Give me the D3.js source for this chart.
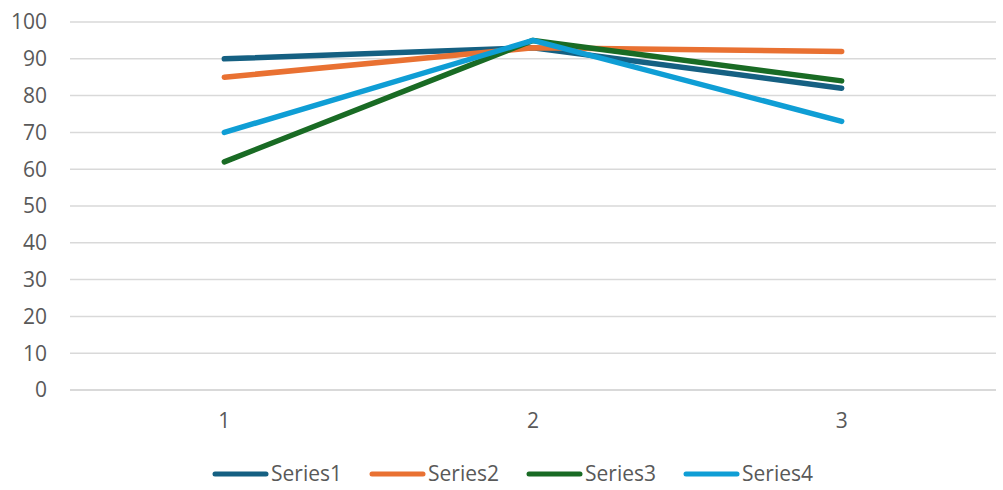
<!DOCTYPE html>
<html>
<head>
<meta charset="utf-8">
<script src="https://cdn.jsdelivr.net/npm/d3@7"></script>
<style>
  html, body { margin: 0; padding: 0; background: #fff; }
  svg { display: block; }
  text { font-family: "Open Sans", "Noto Sans", sans-serif; fill: #595959; }
</style>
</head>
<body>
<svg id="chart" width="1003" height="490"></svg>
<script>
const categories = [1, 2, 3];
const seriesNames = ["Series1", "Series2", "Series3", "Series4"];
const series1 = [90, 93, 82];
const series2 = [85, 93, 92];
const series3 = [62, 95, 84];
const series4 = [70, 95, 73];
const yTicks = [0, 10, 20, 30, 40, 50, 60, 70, 80, 90, 100];
const colors = ["#156082", "#E97132", "#196B24", "#0F9ED5"];

const allSeries = [series1, series2, series3, series4];

const svg = d3.select("#chart");
const plotLeft = 70, plotRight = 996, plotTop = 22, plotBottom = 390;

const x = d3.scaleBand().domain(categories).range([plotLeft, plotRight]);
const y = d3.scaleLinear().domain([0, 100]).range([plotBottom, plotTop]);

// horizontal gridlines
svg.append("g").selectAll("line").data(yTicks).join("line")
  .attr("x1", plotLeft).attr("x2", plotRight)
  .attr("y1", d => y(d)).attr("y2", d => y(d))
  .attr("stroke", "#d9d9d9").attr("stroke-width", d => d === 0 ? 2 : 1.5);

// y tick labels
svg.append("g").selectAll("text").data(yTicks).join("text")
  .attr("x", 47).attr("y", d => y(d))
  .attr("dy", "0.35em").attr("text-anchor", "end")
  .attr("font-size", 21).text(d => d);

// x tick labels
svg.append("g").selectAll("text").data(categories).join("text")
  .attr("x", d => x(d) + x.bandwidth() / 2).attr("y", 421)
  .attr("dy", "0.35em").attr("text-anchor", "middle")
  .attr("font-size", 21).text(d => d);

// series lines
const line = d3.line()
  .x((d, i) => x(categories[i]) + x.bandwidth() / 2)
  .y(d => y(d));

svg.append("g").selectAll("path").data(allSeries).join("path")
  .attr("d", d => line(d))
  .attr("fill", "none")
  .attr("stroke", (d, i) => colors[i])
  .attr("stroke-width", 5.5)
  .attr("stroke-linecap", "round")
  .attr("stroke-linejoin", "round");

// legend
const legend = svg.append("g").selectAll("g").data(seriesNames).join("g")
  .attr("transform", (d, i) => `translate(${215 + i * 157},474)`);
legend.append("line")
  .attr("x1", 0).attr("x2", 51).attr("y1", 0).attr("y2", 0)
  .attr("stroke", (d, i) => colors[i]).attr("stroke-width", 5)
  .attr("stroke-linecap", "round");
legend.append("text")
  .attr("x", 56).attr("y", 0).attr("dy", "0.35em")
  .attr("font-size", 21).text(d => d);
</script>
</body>
</html>
